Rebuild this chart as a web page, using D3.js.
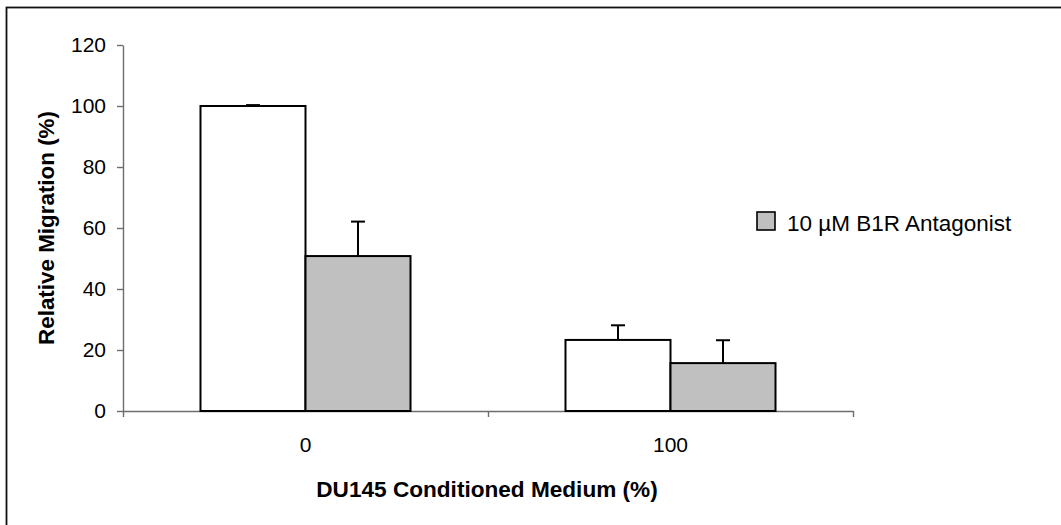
<!DOCTYPE html>
<html>
<head>
<meta charset="utf-8">
<script src="https://cdn.jsdelivr.net/npm/d3@7"></script>
<style>
  html, body { margin: 0; padding: 0; background: #fff; }
  svg { display: block; }
  text { font-family: "Liberation Sans", Arial, sans-serif; fill: #000; }
</style>
</head>
<body>
<script>
// Migration of cells in DU145 conditioned medium, with and without B1R antagonist
const categories = ["0", "100"];
const seriesNames = ["Control", "10 µM B1R Antagonist"];
const controlValues = [100, 23.3];
const controlErrors = [0.3, 4.8];
const antagonistValues = [50.8, 15.7];
const antagonistErrors = [11.3, 7.5];
const yTicks = [0, 20, 40, 60, 80, 100, 120];
const seriesFills = ["#ffffff", "#c0c0c0"];

const W = 1061, H = 525;
const plot = { left: 123, right: 853, top: 45, bottom: 411 };

const svg = d3.select("body").append("svg")
  .attr("width", W).attr("height", H);

// outer chart frame (only the top and left edges fall inside the page)
svg.append("rect")
  .attr("x", 6.5).attr("y", 7.5)
  .attr("width", 1200).attr("height", 700)
  .attr("fill", "none").attr("stroke", "#111").attr("stroke-width", 1.8);

const y = d3.scaleLinear().domain([0, 120]).range([plot.bottom, plot.top]);
const x0 = d3.scaleBand().domain(categories).range([plot.left, plot.right]);
const x1 = d3.scaleBand().domain(seriesNames)
  .range([0, x0.bandwidth()]).paddingInner(0).paddingOuter(0.738);

const rows = categories.map((c, i) => ({
  cat: c,
  items: [
    { name: seriesNames[0], value: controlValues[i], err: controlErrors[i], fill: seriesFills[0] },
    { name: seriesNames[1], value: antagonistValues[i], err: antagonistErrors[i], fill: seriesFills[1] }
  ]
}));

// y axis
const yAxis = svg.append("g")
  .attr("transform", `translate(${plot.left},0)`)
  .call(d3.axisLeft(y).tickValues(yTicks).tickSize(6).tickPadding(11).tickSizeOuter(0));
yAxis.select(".domain").attr("stroke", "#6e6e6e").attr("stroke-width", 1.4);
yAxis.selectAll(".tick line").attr("stroke", "#6e6e6e").attr("stroke-width", 1.4);
yAxis.selectAll(".tick text").style("font-size", "21px").attr("fill", "#000");

// x axis: ticks at category boundaries
const xEdge = d3.scaleLinear().domain([0, categories.length]).range([plot.left, plot.right]);
const xAxis = svg.append("g")
  .attr("transform", `translate(0,${plot.bottom})`)
  .call(d3.axisBottom(xEdge).tickValues(d3.range(categories.length + 1))
    .tickFormat("").tickSize(6).tickSizeOuter(0));
xAxis.select(".domain").attr("stroke", "#6e6e6e").attr("stroke-width", 1.4);
xAxis.selectAll(".tick line").attr("stroke", "#6e6e6e").attr("stroke-width", 1.4);

// category labels centred under each group
const xLabels = svg.append("g")
  .attr("transform", `translate(0,${plot.bottom})`)
  .call(d3.axisBottom(x0).tickSize(0).tickPadding(26));
xLabels.select(".domain").remove();
xLabels.selectAll(".tick text").style("font-size", "21px").attr("fill", "#000");

// bars
const groups = svg.selectAll("g.group").data(rows).join("g")
  .attr("class", "group")
  .attr("transform", d => `translate(${x0(d.cat)},0)`);

groups.selectAll("rect").data(d => d.items).join("rect")
  .attr("x", d => x1(d.name))
  .attr("y", d => y(d.value))
  .attr("width", x1.bandwidth())
  .attr("height", d => y(0) - y(d.value))
  .attr("fill", d => d.fill)
  .attr("stroke", "#000").attr("stroke-width", 2);

// upper error bars
const capHalf = 7;
const eb = groups.selectAll("g.err").data(d => d.items).join("g").attr("class", "err");
eb.append("line")
  .attr("x1", d => x1(d.name) + x1.bandwidth() / 2)
  .attr("x2", d => x1(d.name) + x1.bandwidth() / 2)
  .attr("y1", d => y(d.value))
  .attr("y2", d => y(d.value + d.err))
  .attr("stroke", "#000").attr("stroke-width", 2);
eb.append("line")
  .attr("x1", d => x1(d.name) + x1.bandwidth() / 2 - capHalf)
  .attr("x2", d => x1(d.name) + x1.bandwidth() / 2 + capHalf)
  .attr("y1", d => y(d.value + d.err))
  .attr("y2", d => y(d.value + d.err))
  .attr("stroke", "#000").attr("stroke-width", 2);

// axis titles
svg.append("text")
  .attr("transform", `translate(54,${(plot.top + plot.bottom) / 2}) rotate(-90)`)
  .attr("text-anchor", "middle")
  .style("font-size", "22.4px").style("font-weight", "bold")
  .text("Relative Migration (%)");

svg.append("text")
  .attr("x", (plot.left + plot.right) / 2 - 1).attr("y", 497)
  .attr("text-anchor", "middle")
  .style("font-size", "22.6px").style("font-weight", "bold")
  .text("DU145 Conditioned Medium (%)");

// legend
const legend = svg.append("g").attr("transform", "translate(757,212)");
legend.append("rect")
  .attr("width", 18).attr("height", 18)
  .attr("fill", seriesFills[1]).attr("stroke", "#000").attr("stroke-width", 1.6);
legend.append("text")
  .attr("x", 30).attr("y", 19)
  .style("font-size", "22.5px")
  .text(seriesNames[1]);
</script>
</body>
</html>
